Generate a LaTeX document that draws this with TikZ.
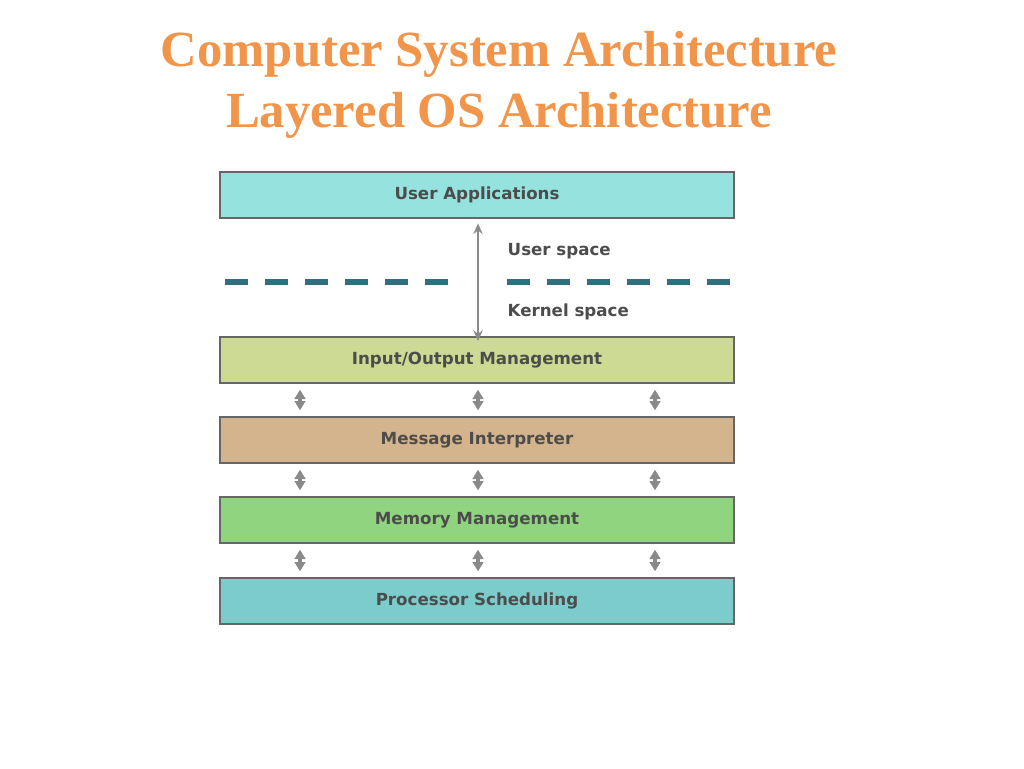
\documentclass[tikz,border=0pt]{standalone}
\usepackage{fontspec}
\setmainfont{Liberation Serif}
\setsansfont{DejaVu Sans}
\usetikzlibrary{arrows.meta}
\definecolor{titleorange}{HTML}{F0954A}
\definecolor{dashblue}{HTML}{2F6F80}
\definecolor{arrowgrey}{HTML}{8A8A8A}
\begin{document}
\begin{tikzpicture}[x=0.75pt,y=-0.75pt]
\tikzset{layer/.style = {draw=black!60,line width=1.5pt,minimum width=386pt,minimum height=35pt,inner sep=0pt,font=\sffamily\bfseries\fontsize{12.5}{15}\selectfont,text=black!70}}
\tikzset{link/.style = {{Stealth[length=7pt,width=8pt,inset=0pt]}-{Stealth[length=7pt,width=8pt,inset=0pt]},arrowgrey,line width=3pt,shorten >=0pt,shorten <=0pt}}
\useasboundingbox (0,0) rectangle (1024,768);
\node[font=\bfseries\fontsize{38}{44}\selectfont,text=titleorange] (t1) at (499,54) {Computer System Architecture};
\node[font=\bfseries\fontsize{38}{44}\selectfont,text=titleorange] (t2) at (499,115) {Layered OS Architecture};
\node[layer,fill={rgb,255:red,150;green,226;blue,222}] (ua) at (477,195) {User Applications};
\node[layer,fill={rgb,255:red,204;green,218;blue,148}] (io) at (477,360) {Input/Output Management};
\node[layer,fill={rgb,255:red,212;green,180;blue,140}] (mi) at (477,440) {Message Interpreter};
\node[layer,fill={rgb,255:red,144;green,212;blue,128}] (mm) at (477,520) {Memory Management};
\node[layer,fill={rgb,255:red,124;green,204;blue,204}] (ps) at (477,601) {Processor Scheduling};
% user/kernel boundary
\draw[dashblue,line width=4pt,dash pattern=on 17pt off 13pt] (225,282) -- (455,282);
\draw[dashblue,line width=4pt,dash pattern=on 17pt off 13pt] (507,282) -- (735,282);
\draw[{Stealth[length=8pt,width=7pt]}-{Stealth[length=8pt,width=7pt]},arrowgrey,line width=1.8pt] (ua.south -| 478,0) ++(0,4) -- ([yshift=-4pt]io.north -| 478,0);
\node[anchor=west,font=\sffamily\bfseries\fontsize{12.5}{15}\selectfont,text=black!70] (us) at (503,251) {User space};
\node[anchor=west,font=\sffamily\bfseries\fontsize{12.5}{15}\selectfont,text=black!70] (ks) at (503,312) {Kernel space};
\foreach \a/\b in {io/mi,mi/mm,mm/ps}
  \foreach \x in {300,478,655}
    \draw[link] ([yshift=-4pt]\a.south -| \x,0) -- ([yshift=4pt]\b.north -| \x,0);
\end{tikzpicture}
\end{document}
